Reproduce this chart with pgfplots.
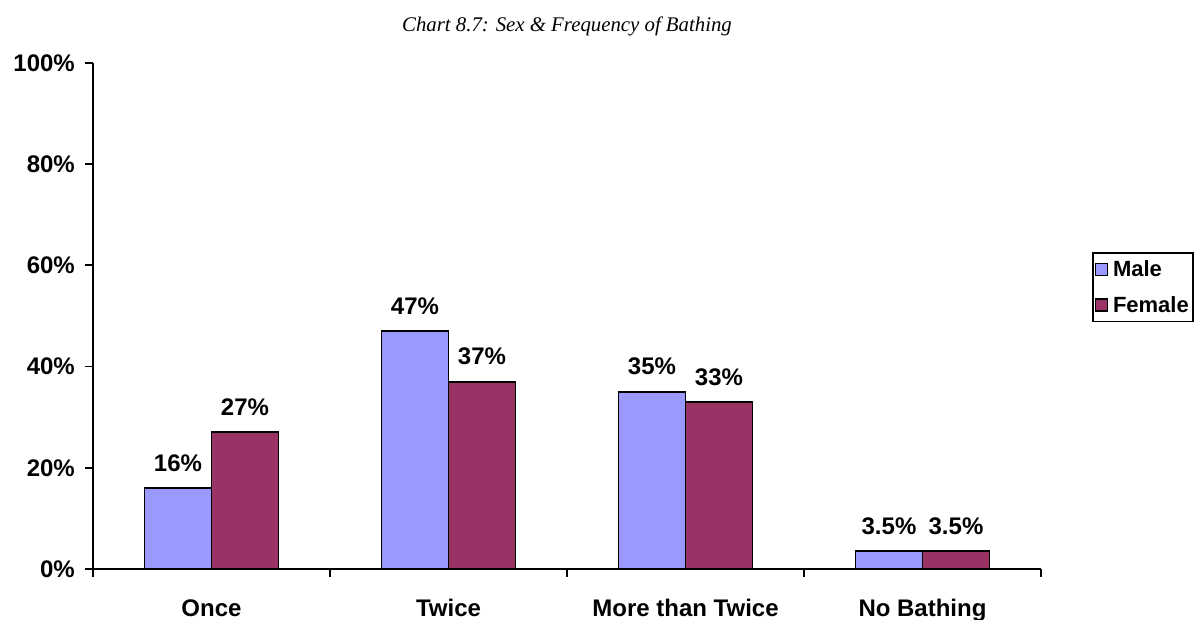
\documentclass[border=0pt]{standalone}
\usepackage{fontspec}
\setmainfont{Liberation Sans}
\newfontfamily\titlefont{Liberation Serif}
\usepackage{pgfplots}
\pgfplotsset{compat=1.18}
\definecolor{male}{HTML}{9999FF}
\definecolor{female}{HTML}{993366}
\begin{document}
\begin{tikzpicture}
% page = 1197 x 620, axis box at (93,63)-(1041,569) in the reference
\useasboundingbox (-93pt,-51pt) rectangle (1104pt,569pt);
\begin{axis}[
  at={(0pt,0pt)}, anchor=south west,
  width=948pt, height=506pt, scale only axis,
  ybar=0pt, bar width=67pt,
  xmin=-0.5, xmax=3.5, ymin=0, ymax=100,
  xtick={0,1,2,3},
  xticklabels={Once,Twice,More than Twice,No Bathing},
  minor xtick={-0.5,0.5,1.5,2.5,3.5},
  ytick={0,20,...,100},
  yticklabel={\pgfmathprintnumber{\tick}\%},
  /pgf/number format/assume math mode=true,
  axis lines*=left,
  axis line style={line width=1.8pt},
  tick align=outside, tick pos=left,
  major tick length=8pt, minor tick length=8pt,
  tick style={line width=1.8pt, black},
  major x tick style={draw=none},
  ticklabel style={font=\bfseries\fontsize{24}{28}\selectfont},
  xticklabel style={inner sep=0pt, anchor=base, yshift=-40pt},
  yticklabel style={inner sep=0pt, xshift=-10pt},
  title={\titlefont\itshape\fontsize{20.8}{24}\selectfont Chart 8.7: Sex \& Frequency of Bathing},
  title style={at={(0.5,1)}, anchor=center, yshift=31pt},
  nodes near coords={\pgfmathprintnumber{\pgfplotspointmeta}\%},
  every node near coord/.append style={font=\bfseries\fontsize{24}{28}\selectfont,
    inner sep=0pt, anchor=base, yshift=17pt},
  legend style={at={(1.0538,0.6265)}, anchor=north west, draw=black, line width=1.6pt,
    font=\bfseries\fontsize{22}{26}\selectfont, row sep=14pt, column sep=3pt,
    inner xsep=2pt, inner ysep=6pt},
  legend cell align=left,
  legend image code/.code={\draw[#1, draw=black, line width=1.2pt] (0pt,-6pt) rectangle (12pt,6pt);},
]
\addplot[fill=male, draw=black, line width=1.8pt] coordinates {(0,16) (1,47) (2,35) (3,3.5)};
\addplot[fill=female, draw=black, line width=1.8pt] coordinates {(0,27) (1,37) (2,33) (3,3.5)};
\legend{Male, Female}
\end{axis}
\end{tikzpicture}
\end{document}
